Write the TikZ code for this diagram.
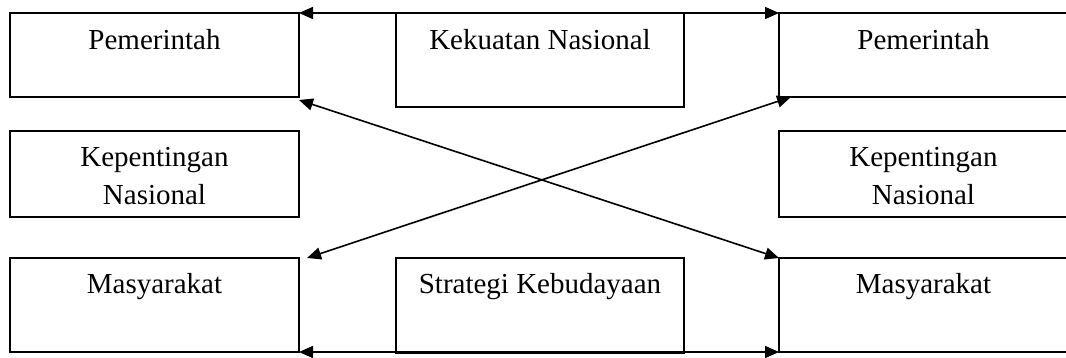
\documentclass[tikz,border=0pt]{standalone}
\usepackage{fontspec}
\setmainfont{Liberation Serif}
\usetikzlibrary{arrows.meta}
\begin{document}
\begin{tikzpicture}[x=1pt,y=-1pt,
  box/.style={draw, line width=1.6pt, outer sep=0pt, inner sep=0pt, anchor=north west},
  lbl/.style={anchor=base, align=center, inner sep=0pt, font=\fontsize{29}{38}\selectfont},
  conn/.style={line width=1.6pt, {Triangle[length=14pt,width=12pt]}-{Triangle[length=14pt,width=12pt]}}]
\useasboundingbox (0,0) rectangle (1066,358);
\clip (0,0) rectangle (1066,358);
% boxes
\node[box, minimum width=289pt, minimum height=84pt] (pl) at (10,13) {};
\node[box, minimum width=288pt, minimum height=94.5pt] (kn) at (396,12.5) {};
\node[box, minimum width=289pt, minimum height=84pt] (pr) at (779,13) {};
\node[box, minimum width=289pt, minimum height=86pt] (il) at (10,131) {};
\node[box, minimum width=289pt, minimum height=86pt] (ir) at (779,131) {};
\node[box, minimum width=289pt, minimum height=94pt] (ml) at (10,258) {};
\node[box, minimum width=288pt, minimum height=95pt] (sk) at (396,258) {};
\node[box, minimum width=289pt, minimum height=94pt] (mr) at (779,258) {};
% texts
\node[lbl] (tpl) at ([yshift=-37pt]pl.north) {Pemerintah};
\node[lbl] (tkn) at ([yshift=-37pt]kn.north) {Kekuatan Nasional};
\node[lbl] (tpr) at ([yshift=-37pt]pr.north) {Pemerintah};
\node[lbl] (til) at ([yshift=-74pt]il.north) {Kepentingan\\Nasional};
\node[lbl] (tir) at ([yshift=-74pt]ir.north) {Kepentingan\\Nasional};
\node[lbl] (tml) at ([yshift=-36pt]ml.north) {Masyarakat};
\node[lbl] (tsk) at ([yshift=-36pt]sk.north) {Strategi Kebudayaan};
\node[lbl] (tmr) at ([yshift=-36pt]mr.north) {Masyarakat};
% connectors
\draw[conn] (pl.north east) -- (pr.north west);
\draw[conn] (ml.south east) -- (mr.south west);
\draw[conn] ([yshift=-3pt]pl.south east) -- (mr.north west);
\draw[conn] ([xshift=8pt]ml.north east) -- ([xshift=12pt]pr.south west);
\end{tikzpicture}
\end{document}
